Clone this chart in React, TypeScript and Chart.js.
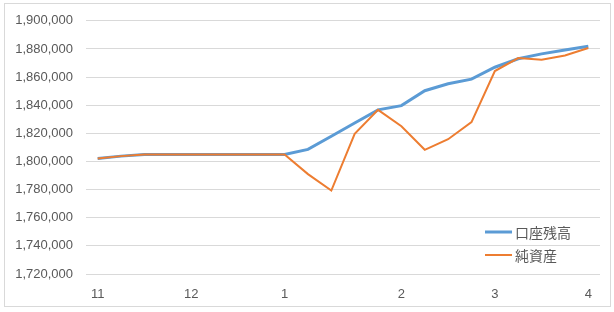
import React, { useEffect, useRef } from "react";
import { Chart, registerables } from "chart.js";

Chart.register(...registerables);

const categories: string[] = ["11", "", "", "", "12", "", "", "", "1", "", "", "", "", "2", "", "", "", "3", "", "", "", "4"];
const balance: number[] = [1802100, 1803800, 1805000, 1805000, 1805000, 1805000, 1805000, 1805000, 1805000, 1808600, 1817900, 1827300, 1836700, 1839700, 1850300, 1855200, 1858500, 1867000, 1873000, 1876500, 1879300, 1881900];
const netAssets: number[] = [1802100, 1803800, 1805000, 1805000, 1805000, 1805000, 1805000, 1805000, 1805000, 1791000, 1779300, 1819600, 1836700, 1825000, 1808300, 1815800, 1828000, 1864300, 1873500, 1872300, 1875400, 1880700];
const seriesNames: string[] = ["口座残高", "純資産"];
const yMin = 1720000;
const yMax = 1900000;
const yStep = 20000;

const BLUE = "#5B9BD5";
const ORANGE = "#ED7D31";
const GRID = "#D9D9D9";
const TEXT = "#595959";

const legendPlugin = {
  id: "insideLegend",
  afterDraw(chart: any) {
    const ctx = chart.ctx;
    const ds = chart.data.datasets;
    const items = [
      { label: ds[1].label, color: ds[1].borderColor, width: ds[1].borderWidth, y: 232 },
      { label: ds[0].label, color: ds[0].borderColor, width: ds[0].borderWidth, y: 255 },
    ];
    ctx.save();
    items.forEach((it) => {
      ctx.strokeStyle = it.color;
      ctx.lineWidth = it.width;
      ctx.beginPath();
      ctx.moveTo(485, it.y);
      ctx.lineTo(512, it.y);
      ctx.stroke();
      ctx.fillStyle = TEXT;
      ctx.font = '14px "Noto Sans CJK JP", sans-serif';
      ctx.textBaseline = "middle";
      ctx.textAlign = "left";
      ctx.fillText(it.label, 515, it.y + 1);
    });
    ctx.restore();
  },
};

export default function App() {
  const ref = useRef<HTMLCanvasElement>(null);

  useEffect(() => {
    document.body.style.margin = "0";
    if (!ref.current) return;
    const chart = new Chart(ref.current, {
      type: "line",
      data: {
        labels: categories,
        datasets: [
          {
            label: seriesNames[1],
            data: netAssets,
            borderColor: ORANGE,
            backgroundColor: ORANGE,
            borderWidth: 2,
            pointRadius: 0,
            tension: 0,
            order: 1,
          },
          {
            label: seriesNames[0],
            data: balance,
            borderColor: BLUE,
            backgroundColor: BLUE,
            borderWidth: 3,
            pointRadius: 0,
            tension: 0,
            order: 2,
          },
        ],
      },
      options: {
        animation: false,
        responsive: false,
        maintainAspectRatio: false,
        layout: { padding: { top: 18, right: 14, bottom: 0, left: 0 } },
        plugins: {
          legend: { display: false },
          tooltip: { enabled: false },
        },
        scales: {
          x: {
            offset: true,
            grid: { display: false, drawTicks: false },
            border: { display: false },
            ticks: {
              autoSkip: false,
              maxRotation: 0,
              padding: 13,
              color: TEXT,
              font: { family: '"Liberation Sans", sans-serif', size: 13 },
            },
            afterFit: (s: any) => {
              s.height = 38;
            },
          },
          y: {
            min: yMin,
            max: yMax,
            grid: { color: GRID, lineWidth: 1, drawTicks: false },
            border: { display: false },
            ticks: {
              stepSize: yStep,
              padding: 13,
              color: TEXT,
              font: { family: '"Liberation Sans", sans-serif', size: 13 },
              callback: (v: any) => Number(v).toLocaleString("en-US"),
            },
            afterFit: (s: any) => {
              s.width = 86;
            },
          },
        },
      },
      plugins: [legendPlugin],
    });
    return () => chart.destroy();
  }, []);

  return (
    <div style={{ position: "absolute", left: 0, top: 0, width: 614, height: 312, background: "#fff" }}>
      <div
        style={{
          position: "absolute",
          left: 4,
          top: 3,
          width: 605,
          height: 302,
          border: `1px solid ${GRID}`,
          pointerEvents: "none",
        }}
      />
      <canvas ref={ref} width={614} height={312} style={{ position: "absolute", left: 0, top: 0, width: 614, height: 312 }} />
    </div>
  );
}
